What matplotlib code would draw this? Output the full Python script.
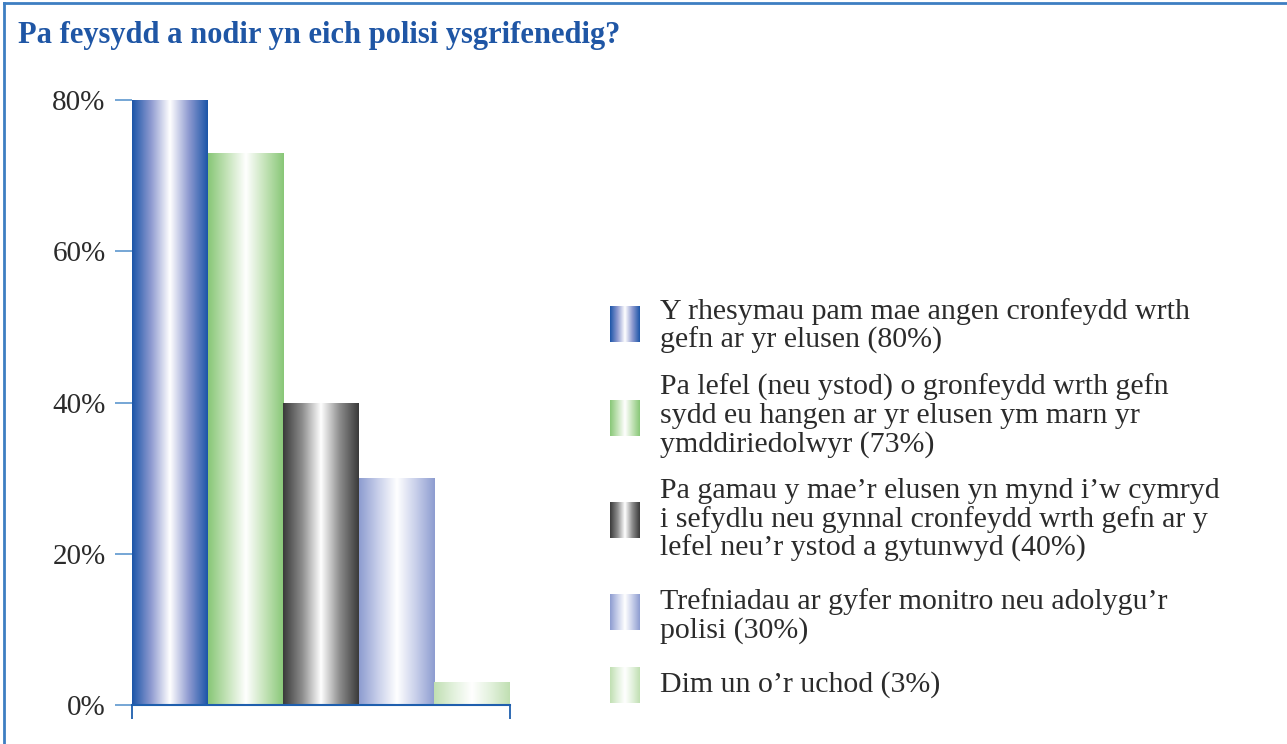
import numpy as np
import matplotlib
matplotlib.use("Agg")
import matplotlib.pyplot as plt
from matplotlib.colors import LinearSegmentedColormap

# --- data ---
categories = [
    "Y rhesymau pam mae angen cronfeydd wrth\ngefn ar yr elusen (80%)",
    "Pa lefel (neu ystod) o gronfeydd wrth gefn\nsydd eu hangen ar yr elusen ym marn yr\nymddiriedolwyr (73%)",
    "Pa gamau y mae\u2019r elusen yn mynd i\u2019w cymryd\ni sefydlu neu gynnal cronfeydd wrth gefn ar y\nlefel neu\u2019r ystod a gytunwyd (40%)",
    "Trefniadau ar gyfer monitro neu adolygu\u2019r\npolisi (30%)",
    "Dim un o\u2019r uchod (3%)",
]
values = [80, 73, 40, 30, 3]
yticks = [0, 20, 40, 60, 80]
ytick_labels = ["0%", "20%", "40%", "60%", "80%"]

# edge colour, mid colour (centre is white)
bar_colors = [
    ("#1b55a8", "#8e9ad0"),
    ("#88c777", "#c4e3b8"),
    ("#3a3a3a", "#8c8c8c"),
    ("#8d9cd0", "#c8cfea"),
    ("#c0dfb2", "#e2f1dc"),
]

TITLE_COLOR = "#1f56a5"
AXIS_COLOR = "#1f5fae"
TEXT_COLOR = "#2b2b2b"
plt.rcParams["font.family"] = ["Liberation Serif", "DejaVu Serif"]


def make_cmap(edge, mid):
    return LinearSegmentedColormap.from_list(
        "g", [(0, edge), (0.25, mid), (0.5, "white"), (0.75, mid), (1, edge)])


grad = np.linspace(0, 1, 256).reshape(1, -1)

fig = plt.figure(figsize=(12.87, 7.44), dpi=100)
ax = fig.add_axes([132 / 1287, 1 - 705 / 744, 378 / 1287, 605 / 744])

x = np.arange(len(values))
bars = ax.bar(x, values, width=1.0, facecolor="none", edgecolor="none")
for b, (edge, mid) in zip(bars, bar_colors):
    x0, w, h = b.get_x(), b.get_width(), b.get_height()
    im = ax.imshow(grad, extent=(x0, x0 + w, 0, h), aspect="auto",
                   cmap=make_cmap(edge, mid), interpolation="bilinear", zorder=2)
    im.set_clip_path(b)

ax.set_xlim(-0.5, len(values) - 0.5)
ax.set_ylim(0, 80)
ax.set_yticks(yticks)
ax.set_yticklabels(ytick_labels, fontsize=21, color=TEXT_COLOR)
ax.tick_params(axis="y", length=12, width=1.3, color="#6a9fd2", pad=7)
ax.set_xticks([-0.5, len(values) - 0.5])
ax.set_xticklabels([])
ax.tick_params(axis="x", length=10, width=1.3, color=AXIS_COLOR, direction="out")
for s in ["top", "right", "left"]:
    ax.spines[s].set_visible(False)
ax.spines["bottom"].set_color(AXIS_COLOR)
ax.spines["bottom"].set_linewidth(1.5)

# --- overlay for title, frame and legend (pixel coords) ---
lax = fig.add_axes([0, 0, 1, 1], zorder=-1)
lax.set_xlim(0, 1287)
lax.set_ylim(744, 0)
lax.axis("off")
lax.plot([4, 1287], [3, 3], color="#3d7ec2", lw=2)
lax.plot([4, 4], [3, 744], color="#3d7ec2", lw=2)
lax.text(18, 36, "Pa feysydd a nodir yn eich polisi ysgrifenedig?",
         fontsize=22, fontweight="bold", color=TITLE_COLOR, va="center")

sw_y = [324, 418, 520, 612, 685]
txt_y = [326, 416, 520, 616, 685]
for cat, (edge, mid), sy, ty in zip(categories, bar_colors, sw_y, txt_y):
    lax.imshow(grad, extent=(610, 640, sy + 18, sy - 18), aspect="auto",
               cmap=make_cmap(edge, mid), interpolation="bilinear")
    lax.text(660, ty, cat, fontsize=21.5, color=TEXT_COLOR, va="center",
             linespacing=1.1)
lax.set_xlim(0, 1287)
lax.set_ylim(744, 0)

fig.savefig("out.png", dpi=100)
